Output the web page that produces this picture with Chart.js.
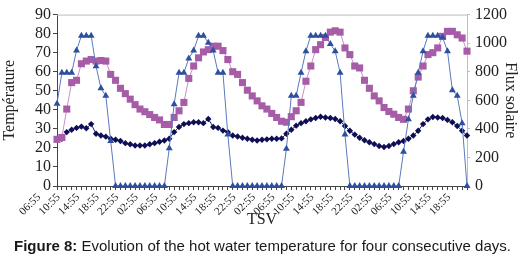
<!DOCTYPE html>
<html><head><meta charset="utf-8">
<script src="https://cdn.jsdelivr.net/npm/chart.js@4.4.1/dist/chart.umd.min.js"></script>
<style>
html,body{margin:0;padding:0;background:#fff;}
#wrap{position:relative;width:521px;height:258px;overflow:hidden;}
canvas{position:absolute;left:0;top:0;}
#cap{position:absolute;left:14px;top:237px;font-family:"Liberation Sans",Arial,sans-serif;font-size:15px;color:#1a1a1a;white-space:nowrap;}
</style></head><body>
<div id="wrap"><canvas id="c" width="521" height="258"></canvas>
<div id="cap"><b>Figure 8:</b> Evolution of the hot water temperature for four consecutive days.</div></div>
<script>
// hourly categories (TSV), 06:55 day 1 -> 18:55 day 4
const categories = [
 "06:55","07:55","08:55","09:55","10:55","11:55","12:55","13:55","14:55","15:55","16:55","17:55",
 "18:55","19:55","20:55","21:55","22:55","23:55","00:55","01:55","02:55","03:55","04:55","05:55",
 "06:55","07:55","08:55","09:55","10:55","11:55","12:55","13:55","14:55","15:55","16:55","17:55",
 "18:55","19:55","20:55","21:55","22:55","23:55","00:55","01:55","02:55","03:55","04:55","05:55",
 "06:55","07:55","08:55","09:55","10:55","11:55","12:55","13:55","14:55","15:55","16:55","17:55",
 "18:55","19:55","20:55","21:55","22:55","23:55","00:55","01:55","02:55","03:55","04:55","05:55",
 "06:55","07:55","08:55","09:55","10:55","11:55","12:55","13:55","14:55","15:55","16:55","17:55",
 "18:55"
];
const labelEvery = 4;
const tempTicks = [0,10,20,30,40,50,60,70,80,90];
const fluxTicks = [0,200,400,600,800,1000,1200];

// Flux solaire (W/m2), right axis
const fluxSolaire = [
 576,793,793,793,948,1052,1052,1052,839,684,631,315, 0,0,0,0,0,0,0,0,0,0,0,264,
 573,793,793,893,948,1052,1052,1003,948,793,793,360, 0,0,0,0,0,0,0,0,0,0,0,261,
 631,631,793,944,1052,1052,1052,1052,995,944,793,360, 0,0,0,0,0,0,0,0,0,0,0,240,
 467,631,793,944,1052,1052,1052,1040,944,671,631,440, 0
];
// Hot water temperature (squares), left axis
const hotWater = [
 24.5,25.5,40.4,54.3,55.5,64.2,65.6,66.4,65.6,65.9,65.6,58.6,55.5,51.3,48.5,45.6,42.7,40.4,39,37.5,36,34.7,32.3,32.3,
 36,39.5,43.9,56.5,63,67.3,70.4,71.6,73.4,73.4,71.1,66.4,60,58.6,54.3,50.3,47.3,44.7,42.1,40.4,38.1,36,34,33.5,
 36.4,39.5,43.9,55,63,71.6,74.2,78,80.8,81.5,80.8,72.5,69,63,62,55.5,51.3,47.3,44.7,41.2,39.1,37.7,36,35,
 40.4,50,57.2,63,69,70,72.5,78.6,81.2,81.2,79.4,77.7,70.8
];
// Second temperature (diamonds), left axis
const tempDiamond = [
 24.5,24.8,28.3,29.5,30.5,31.2,30.3,32.5,27.4,26.5,25.9,24.8,24.3,23.6,22.5,21.9,21.3,21.3,21.3,21.9,22.5,23.2,23.9,24.8,
 28.3,31,32.5,33,33.5,33.5,33,35.2,31,30.5,29.1,28.3,26.5,26,25.3,24.8,24.3,23.9,24.3,24.5,24.8,24.8,25,27.4,
 29.5,31.7,33,34,35,35.7,36.4,36,35.7,35.2,34,31.5,29,27,25.3,24,23,22,21,20.5,21,22,23,23.6,
 24.8,26.5,29,32.5,35,36.2,36,35.7,34.7,33.5,31.5,29,26.5
];

const serif = "'Liberation Serif','Times New Roman',serif";
const frame = {
  id:'frame',
  beforeDatasetsDraw(c){
    const {ctx, chartArea:a} = c;
    ctx.save(); ctx.strokeStyle = '#bdbdbd'; ctx.lineWidth = 1;
    ctx.beginPath(); ctx.moveTo(a.left, a.top + 0.5); ctx.lineTo(a.right, a.top + 0.5); ctx.stroke();
    ctx.restore();
  }
};

new Chart(document.getElementById('c'), {
  type: 'line',
  data: {
    labels: categories,
    datasets: [
      { label:'Flux solaire', data: fluxSolaire, yAxisID:'y1',
        borderColor:'#5b79bf', borderWidth:1, pointStyle:'triangle', pointRadius:4,
        pointBackgroundColor:'#2d4f9f', pointBorderColor:'#2d4f9f', pointBorderWidth:0, tension:0, clip:false },
      { label:'Hot water', data: hotWater, yAxisID:'y',
        borderColor:'#c98fc9', borderWidth:1, pointStyle:'rect', pointRadius:5,
        pointBackgroundColor:'#a75ca7', pointBorderColor:'#a75ca7', pointBorderWidth:0, tension:0, clip:false },
      { label:'Temp', data: tempDiamond, yAxisID:'y',
        borderColor:'#22226a', borderWidth:1, pointStyle:'rectRot', pointRadius:3.2,
        pointBackgroundColor:'#0e0e55', pointBorderColor:'#0e0e55', pointBorderWidth:0, tension:0, clip:false }
    ]
  },
  options: {
    responsive:false, animation:false, devicePixelRatio:1,
    layout:{ padding:{ top:13, left:0, right:0, bottom:0 } },
    plugins:{ legend:{display:false}, tooltip:{enabled:false} },
    scales:{
      x:{
        type:'category', offset:false,
        grid:{ drawOnChartArea:false, drawTicks:true, tickLength:4, color:'#444' },
        border:{ color:'#444' },
        ticks:{ autoSkip:false, maxRotation:45, minRotation:45, labelOffset:-18, padding:1,
          color:'#222', font:{ family:serif, size:11 },
          callback:(v,i)=> (i % labelEvery === 0 ? categories[i] : '') },
        title:{ display:true, text:'TSV', color:'#222', font:{ family:serif, size:16 }, padding:{top:0,bottom:29} },
        afterFit:(s)=>{ s.height = 72; }
      },
      y:{
        position:'left', min:0, max:90,
        afterBuildTicks:(s)=>{ s.ticks = tempTicks.map(v=>({value:v})); },
        grid:{ drawOnChartArea:false, tickLength:4, color:'#444' },
        border:{ color:'#444' },
        ticks:{ autoSkip:false, color:'#222', padding:2, font:{ family:serif, size:16 }, callback:(v)=>String(v) },
        title:{ display:true, text:'Température', color:'#222', font:{ family:serif, size:16 }, padding:{top:0,bottom:0} },
        afterFit:(s)=>{ s.width = 57; }
      },
      y1:{
        position:'right', min:0, max:1200,
        afterBuildTicks:(s)=>{ s.ticks = fluxTicks.map(v=>({value:v})); },
        grid:{ drawOnChartArea:false, tickLength:3, color:'#bdbdbd' },
        border:{ color:'#bdbdbd' },
        ticks:{ autoSkip:false, color:'#222', padding:5, font:{ family:serif, size:16 }, callback:(v)=>String(v) },
        title:{ display:true, text:'Flux solaire', color:'#222', font:{ family:serif, size:16 }, padding:{top:1,bottom:0} },
        afterFit:(s)=>{ s.width = 54; }
      }
    }
  },
  plugins:[frame]
});
</script>
</body></html>
